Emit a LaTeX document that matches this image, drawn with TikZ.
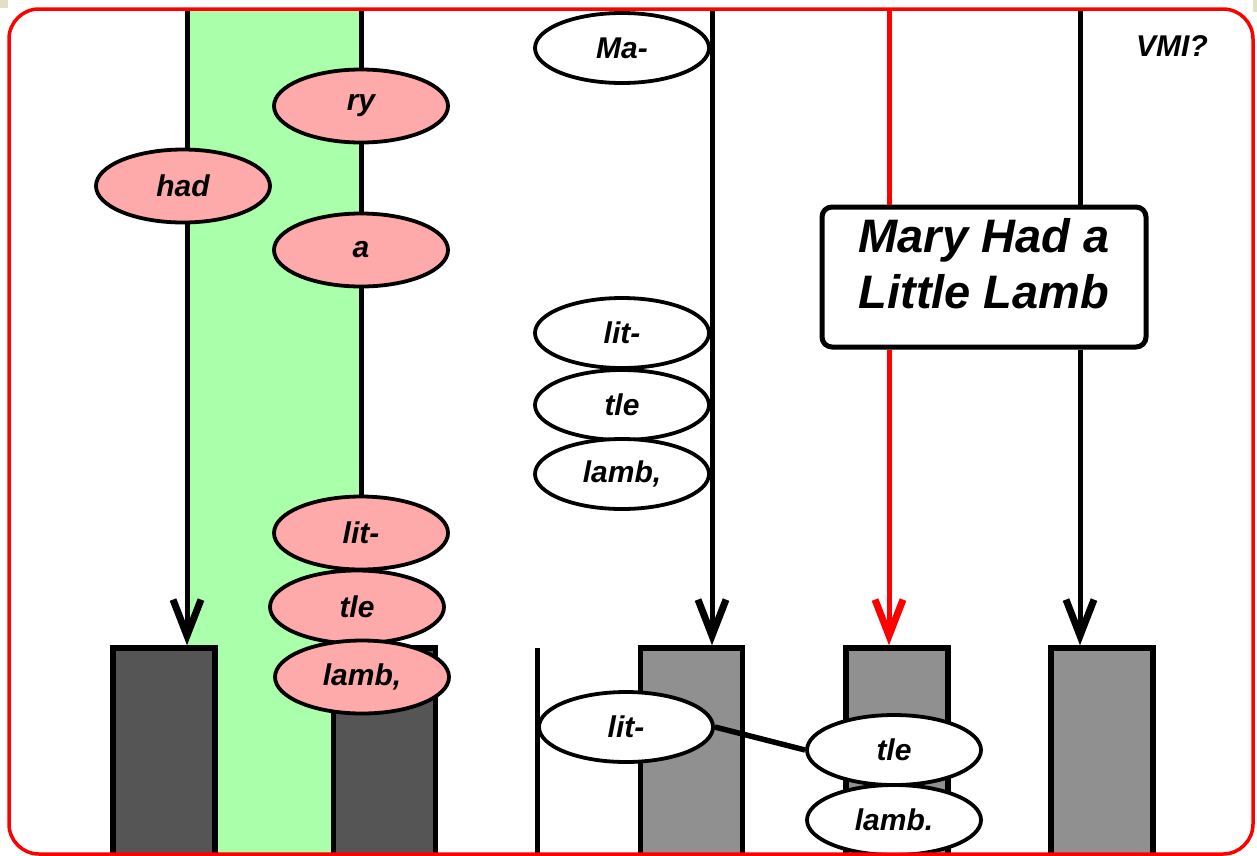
\documentclass[tikz,border=0pt]{standalone}
\usepackage{fontspec}
\setmainfont{Liberation Sans}
\usetikzlibrary{shapes.geometric,arrows.meta}

\definecolor{lanegreen}{HTML}{AAFFAA}
\definecolor{notepink}{HTML}{FFAAAA}
\definecolor{bardark}{HTML}{555555}
\definecolor{barlight}{HTML}{909090}
\definecolor{cornerbeige}{HTML}{E2E0C2}

\tikzset{
    note/.style={ellipse, draw, line width=3.8pt, minimum width=174pt, minimum height=73pt,
        inner sep=0pt, font=\fontsize{30}{32}\selectfont\bfseries\itshape},
    pinknote/.style={note, fill=notepink},
    whitenote/.style={note, fill=white, minimum height=70pt},
    bar/.style={rectangle, draw, line width=5.5pt, minimum width=102pt, minimum height=214pt, inner sep=0pt},
    lane/.style={line width=5pt},
    flow/.style={lane, -{Straight Barb[length=36pt,width=28pt,line width=7pt 0]}},
}

\begin{document}
\begin{tikzpicture}[x=1pt, y=-1pt]
        \useasboundingbox (0,0) rectangle (1257,855);
        \fill[cornerbeige] (0,0) rectangle (8,8);
        \fill[cornerbeige] (1253,0) rectangle (1257,12);

        % green lane
        \fill[lanegreen] (187,9) rectangle (361,855);

        % bars at the bottom
        \node[bar, fill=bardark]  at (164, 755)   (barA) {};
        \node[bar, fill=bardark]  at (384.5, 755) (barB) {};
        \node[bar, fill=barlight] at (691.5, 755) (barC) {};
        \node[bar, fill=barlight] at (897, 755)   (barD) {};
        \node[bar, fill=barlight] at (1102, 755)  (barE) {};

        \node[draw, fill=white, line width=5pt, rounded corners=10pt,
              minimum width=324pt, minimum height=140pt] at (984, 277) (title) {};
        \node[font=\fontsize{47}{56}\selectfont\bfseries\itshape, align=center]
              at ([yshift=13pt]title.center) (titletext) {Mary Had a\\Little Lamb};

        \coordinate (topA) at (187, 9);
        \coordinate (topB) at (361, 9);
        \coordinate (topC) at (712, 9);
        \coordinate (topD) at (889, 9);
        \coordinate (topE) at (1080, 9);
        \coordinate (sepT) at (537, 648);
        \coordinate (sepB) at (537, 855);

        % lines down to the bars
        \draw[flow] (topA) -- (topA |- barA.north);
        \draw[lane] (topB) -- (topB |- barB.north);
        \draw[flow] (topC) -- (topC |- barC.north);
        \draw[lane, red] (topD) -- (topD |- title.north);
        \draw[flow, red] (topD |- title.south) -- (topD |- barD.north);
        \draw[lane] (topE) -- (topE |- title.north);
        \draw[flow] (topE |- title.south) -- (topE |- barE.north);
        \draw[lane] (sepT) -- (sepB);

        % pink notes
        \node[pinknote] at (361, 106)  (ry)    {ry};
        \node[pinknote] at (183, 186)  (had)   {had};
        \node[pinknote] at (361, 250)  (a)     {a};
        \node[pinknote] at (361, 533)  (litA)  {lit-};
        \node[pinknote] at (357, 607)  (tleA)  {tle};
        \node[pinknote] at (362, 677)  (lambA) {lamb,};

        % white notes
        \node[whitenote] at (622, 48)  (ma)    {Ma-};
        \node[whitenote] at (622, 333) (litW)  {lit-};
        \node[whitenote] at (622, 405) (tleW)  {tle};
        \node[whitenote] at (622, 474) (lambW) {lamb,};
        \node[whitenote] at (626, 727) (litB)  {lit-};
        \node[whitenote] at (894, 750) (tleB)  {tle};
        \node[whitenote] at (894, 820) (lambB) {lamb.};

        \draw[lane, line width=5.5pt] (litB.east) -- (tleB.west);

        \node[font=\fontsize{30}{32}\selectfont\bfseries\itshape] at (1172, 46) (vmi) {VMI?};

        % frame
        \draw[red, line width=3.5pt, rounded corners=30pt] (9,9) rectangle (1253,854);

    \end{tikzpicture}
\end{document}
